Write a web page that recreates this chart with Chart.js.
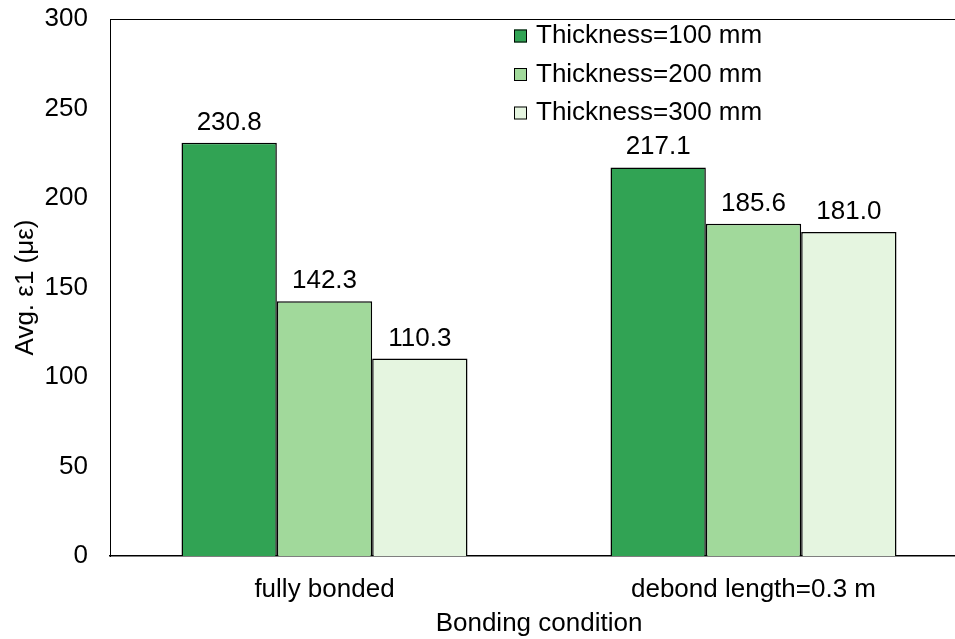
<!DOCTYPE html>
<html>
<head>
<meta charset="utf-8">
<script src="https://cdn.jsdelivr.net/npm/chart.js@4.4.1/dist/chart.umd.min.js"></script>
<style>
  html, body { margin: 0; padding: 0; background: #fff; }
  #wrap { width: 955px; height: 639px; overflow: hidden; }
  canvas { display: block; }
</style>
</head>
<body>
<div id="wrap"><canvas id="chart" width="968" height="639"></canvas></div>
<script>
// Bonding condition vs average strain, grouped by slab thickness
const categories = ['fully bonded', 'debond length=0.3 m'];
const seriesNames = ['Thickness=100 mm', 'Thickness=200 mm', 'Thickness=300 mm'];
const thick100 = [230.8, 217.1];
const thick200 = [142.3, 185.6];
const thick300 = [110.3, 181.0];
const yTicks = [0, 50, 100, 150, 200, 250, 300];

const colors = ['#31a354', '#a1d99b', '#e5f5e0'];
const FONT = 'Liberation Sans, Arial, sans-serif';

// value labels on top of each bar
const valueLabels = {
  id: 'valueLabels',
  afterDatasetsDraw(chart) {
    const ctx = chart.ctx;
    ctx.save();
    ctx.font = '26px ' + FONT;
    ctx.fillStyle = '#000';
    ctx.textAlign = 'center';
    ctx.textBaseline = 'alphabetic';
    chart.data.datasets.forEach((ds, i) => {
      chart.getDatasetMeta(i).data.forEach((bar, j) => {
        ctx.fillText(ds.data[j].toFixed(1), bar.x, bar.y - 13);
      });
    });
    ctx.restore();
  }
};

// top frame line + legend inside plot area
const frameAndLegend = {
  id: 'frameAndLegend',
  afterDraw(chart) {
    const ctx = chart.ctx;
    const a = chart.chartArea;
    ctx.save();
    ctx.strokeStyle = '#000';
    ctx.lineWidth = 1;
    ctx.beginPath();
    ctx.moveTo(a.left, a.top + 0.5);
    ctx.lineTo(a.right, a.top + 0.5);
    ctx.stroke();

    ctx.font = '26px ' + FONT;
    ctx.textAlign = 'left';
    ctx.textBaseline = 'middle';
    const x0 = a.left + 404;
    const y0 = a.top + 17;
    chart.data.datasets.forEach((ds, i) => {
      const cy = y0 + i * 38.5;
      ctx.fillStyle = ds.backgroundColor;
      ctx.fillRect(x0, cy - 6.5, 13, 13);
      ctx.strokeRect(x0 + 0.5, cy - 6, 12, 12);
      ctx.fillStyle = '#000';
      ctx.fillText(ds.label, x0 + 22, cy);
    });
    ctx.restore();
  }
};

const datasets = [thick100, thick200, thick300].map((vals, i) => ({
  label: seriesNames[i],
  data: vals,
  backgroundColor: colors[i],
  borderColor: '#000',
  borderWidth: 1.5,
  categoryPercentage: 0.6667,
  barPercentage: 1.0
}));

new Chart(document.getElementById('chart'), {
  type: 'bar',
  data: { labels: categories, datasets: datasets },
  options: {
    responsive: false,
    animation: false,
    devicePixelRatio: 1,
    layout: { padding: { top: 19, right: 0, left: 0, bottom: 0 } },
    plugins: {
      legend: { display: false },
      tooltip: { enabled: false }
    },
    scales: {
      x: {
        grid: { display: false, drawTicks: false },
        border: { display: true, color: '#000', width: 1.5 },
        ticks: { color: '#000', font: { family: FONT, size: 26 }, padding: 18 },
        title: {
          display: true,
          text: 'Bonding condition',
          color: '#000',
          font: { family: FONT, size: 26 },
          padding: { top: 0, bottom: 0 }
        },
        afterFit(scale) {
          scale.height = 83;
          scale.paddingLeft = 0;
          scale.paddingRight = 0;
        }
      },
      y: {
        min: 0,
        max: 300,
        afterBuildTicks(scale) { scale.ticks = yTicks.map(v => ({ value: v })); },
        grid: { display: false, drawTicks: false },
        border: { display: true, color: '#000', width: 1 },
        ticks: { color: '#000', font: { family: FONT, size: 26 }, padding: 22 },
        title: {
          display: true,
          text: 'Avg. ε1 (με)',
          color: '#000',
          font: { family: FONT, size: 26 },
          padding: { top: 10, bottom: 0 }
        },
        afterFit(scale) {
          scale.width = 110;
          scale.paddingTop = 0;
          scale.paddingBottom = 0;
        }
      }
    }
  },
  plugins: [valueLabels, frameAndLegend]
});
</script>
</body>
</html>
